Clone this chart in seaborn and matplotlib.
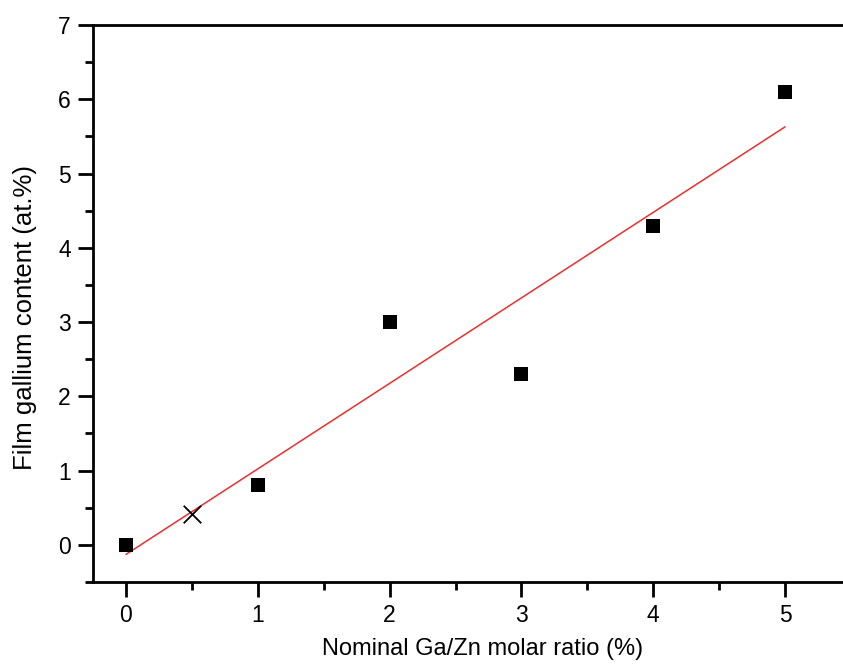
import matplotlib
matplotlib.use("Agg")
import matplotlib.pyplot as plt
import seaborn as sns
import numpy as np
import pandas as pd
from matplotlib.ticker import MultipleLocator

# Data
nominal_ratio = [0, 1, 2, 3, 4, 5]
film_content = [0.0, 0.8, 3.0, 2.3, 4.3, 6.1]
cross_x = [0.5]
cross_y = [0.42]

df = pd.DataFrame({"x": nominal_ratio, "y": film_content})

sns.set_theme(style="white")
plt.rcParams['font.family'] = ['Liberation Sans', 'DejaVu Sans']

fig = plt.figure(figsize=(8.43, 6.66), dpi=100)
ax = fig.add_axes([93/843, 1-582/666, 754/843, (582-25)/666])

sns.regplot(data=df, x="x", y="y", scatter=False, ci=None, truncate=True,
            line_kws=dict(color="#e8312f", lw=1.1), ax=ax)
sns.scatterplot(data=df, x="x", y="y", marker="s", s=110, color="black",
                edgecolor="black", linewidth=0, ax=ax, zorder=3)
ax.scatter(cross_x, cross_y, marker="x", s=160, color="black", linewidths=1.3, zorder=3)

ax.set_xlim(-0.25, 5.47)
ax.set_ylim(-0.5, 7)
ax.xaxis.set_major_locator(MultipleLocator(1))
ax.xaxis.set_minor_locator(MultipleLocator(0.5))
ax.yaxis.set_major_locator(MultipleLocator(1))
ax.yaxis.set_minor_locator(MultipleLocator(0.5))

for s in ax.spines.values():
    s.set_color("black")
    s.set_linewidth(2)
ax.tick_params(which="major", direction="out", length=11, width=2, color="black",
               labelsize=16.5, labelcolor="black", pad=5,
               bottom=True, left=True, top=False, right=False)
ax.tick_params(which="minor", direction="out", length=6, width=2, color="black",
               bottom=True, left=True, top=False, right=False)

ax.set_xlabel("Nominal Ga/Zn molar ratio (%)", fontsize=17, color="black")
ax.set_ylabel("Film gallium content (at.%)", fontsize=18.5, color="black")
ax.xaxis.set_label_coords(0.516, -0.101)
ax.yaxis.set_label_coords(-0.074, 0.474)

fig.savefig("out.png", dpi=100)
